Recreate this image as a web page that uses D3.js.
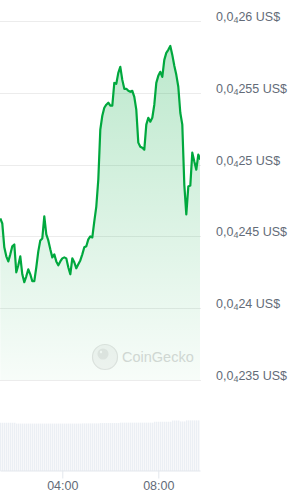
<!DOCTYPE html>
<html>
<head>
<meta charset="utf-8">
<script src="https://cdn.jsdelivr.net/npm/d3@7"></script>
<style>
  body { margin: 0; background: #fff; }
  svg { display: block; font-family: "Liberation Sans", Arial, sans-serif; }
</style>
</head>
<body>
<div id="chart"></div>
<script>
// price in US$, one point every 5 minutes starting 01:25
var startTime = "01:25";
var prices = [
  0.000024625, 0.00002459, 0.000024424, 0.000024361, 0.000024326, 0.000024375, 0.000024431, 0.000024444,
  0.00002425, 0.000024299, 0.000024361, 0.000024236, 0.000024181, 0.000024222, 0.000024271, 0.000024236,
  0.000024188, 0.000024188, 0.000024285, 0.000024396, 0.000024472, 0.000024486, 0.000024639, 0.000024514,
  0.000024472, 0.00002441, 0.000024354, 0.000024375, 0.000024326, 0.000024299, 0.000024326, 0.000024347,
  0.000024354, 0.000024347, 0.000024285, 0.000024236, 0.000024347, 0.00002432, 0.000024278, 0.000024306,
  0.000024333, 0.000024375, 0.000024424, 0.000024431, 0.000024479, 0.0000245, 0.000024493, 0.000024604,
  0.000024708, 0.000024896, 0.000025243, 0.00002534, 0.000025396, 0.000025417, 0.000025431, 0.00002541,
  0.00002541, 0.000025569, 0.000025563, 0.000025639, 0.000025681, 0.00002559, 0.000025528, 0.000025528,
  0.000025514, 0.000025507, 0.000025514, 0.000025472, 0.000025382, 0.000025153, 0.000025125, 0.000025118,
  0.000025104, 0.000025278, 0.000025326, 0.000025299, 0.000025326, 0.000025417, 0.000025569, 0.000025618,
  0.000025646, 0.000025611, 0.000025729, 0.000025778, 0.000025799, 0.000025826, 0.000025764, 0.000025688,
  0.000025625, 0.000025542, 0.000025361, 0.000025278, 0.000024861, 0.000024653, 0.000024847, 0.000024854,
  0.000025083, 0.000025021, 0.000024965, 0.00002507, 0.000025035
];

// volume bars (thousand US$), same 5 minute steps
var volumes = [
  946, 946, 946, 946, 946, 946, 946, 946, 930, 930,
  930, 930, 930, 930, 930, 930, 930, 930, 930, 930,
  930, 930, 930, 930, 930, 930, 930, 930, 930, 930,
  930, 930, 930, 930, 930, 930, 930, 930, 930, 930,
  930, 934, 934, 934, 934, 934, 934, 934, 934, 934,
  940, 940, 940, 940, 940, 940, 940, 940, 940, 940,
  948, 948, 948, 948, 948, 948, 948, 948, 948, 948,
  948, 948, 948, 948, 948, 948, 948, 966, 966, 966,
  966, 966, 966, 966, 966, 966, 990, 990, 990, 990,
  972, 972, 972, 992, 992, 992, 992, 992, 992, 992
];

var yTicks = [0.0000235, 0.000024, 0.0000245, 0.000025, 0.0000255, 0.000026];
var xTicks = ["04:00", "08:00"];
var xDomain = ["01:24:15", "09:44:15"];

var width = 299, height = 496;
var plotRight = 200;
var priceTop = 21, priceBottom = 380;
var volTop = 420, volBottom = 471;

var parseHM = d3.timeParse("%H:%M");
var parseHMS = d3.timeParse("%H:%M:%S");
var t0 = parseHM(startTime);

var priceData = prices.map(function (p, i) {
  return { t: d3.timeMinute.offset(t0, 5 * i), v: p };
});
var volData = volumes.map(function (v, i) {
  return { t: d3.timeMinute.offset(t0, 5 * i), v: v };
});

var x = d3.scaleTime()
  .domain(xDomain.map(parseHMS))
  .range([0, plotRight]);

var y = d3.scaleLinear()
  .domain([0.0000235, 0.000026])
  .range([priceBottom, priceTop]);

var yVol = d3.scaleLinear()
  .domain([0, 1000])
  .range([volBottom, volTop]);

// "0,0₄255 US$" style label pieces
function priceParts(v) {
  var s = v.toFixed(10).replace(/0+$/, "");
  var dec = s.split(".")[1];
  var zeros = dec.match(/^0*/)[0].length;
  return { zeros: zeros, digits: dec.slice(zeros) };
}

var svg = d3.select("#chart")
  .append("svg")
  .attr("width", width)
  .attr("height", height);

var defs = svg.append("defs");
defs.append("clipPath").attr("id", "clip")
  .append("rect")
  .attr("x", 0).attr("y", 0)
  .attr("width", plotRight).attr("height", height);

var grad = defs.append("linearGradient")
  .attr("id", "fillGrad")
  .attr("gradientUnits", "userSpaceOnUse")
  .attr("x1", 0).attr("y1", priceTop)
  .attr("x2", 0).attr("y2", priceBottom);
grad.append("stop").attr("offset", "0%").attr("stop-color", "#00a83e").attr("stop-opacity", 0.28);
grad.append("stop").attr("offset", "100%").attr("stop-color", "#00a83e").attr("stop-opacity", 0.03);

// grid
svg.append("g")
  .selectAll("line")
  .data(yTicks)
  .enter()
  .append("line")
  .attr("x1", 0)
  .attr("x2", plotRight + 1)
  .attr("y1", function (d) { return Math.round(y(d)) + 0.5; })
  .attr("y2", function (d) { return Math.round(y(d)) + 0.5; })
  .attr("stroke", "#ececec")
  .attr("stroke-width", 1);

// y labels
var labels = svg.append("g")
  .selectAll("text")
  .data(yTicks)
  .enter()
  .append("text")
  .attr("x", 216)
  .attr("y", function (d) { return Math.round(y(d)); })
  .attr("font-size", 12.5)
  .attr("fill", "#636b78");

labels.each(function (d) {
  var p = priceParts(d);
  var t = d3.select(this);
  t.append("tspan").text("0,0");
  t.append("tspan").attr("font-size", 9).attr("dy", 2).text(p.zeros);
  t.append("tspan").attr("dy", -2).text(p.digits + " US$");
});

// watermark
var wm = svg.append("g").attr("opacity", 0.9);
wm.append("circle")
  .attr("cx", 105).attr("cy", 357).attr("r", 12.5)
  .attr("fill", "#f4f4f4").attr("stroke", "#e2e2e2").attr("stroke-width", 1.2);
wm.append("circle")
  .attr("cx", 103).attr("cy", 354).attr("r", 5.5)
  .attr("fill", "#e4e4e4");
wm.append("circle")
  .attr("cx", 101).attr("cy", 352).attr("r", 1.2)
  .attr("fill", "#fafafa");
wm.append("text")
  .attr("x", 122).attr("y", 362)
  .attr("font-size", 14.5)
  .attr("fill", "#d6d6d6")
  .text("CoinGecko");

var plot = svg.append("g").attr("clip-path", "url(#clip)");

var area = d3.area()
  .x(function (d) { return x(d.t); })
  .y0(priceBottom)
  .y1(function (d) { return y(d.v); });

var line = d3.line()
  .x(function (d) { return x(d.t); })
  .y(function (d) { return y(d.v); });

plot.append("path")
  .datum(priceData)
  .attr("d", area)
  .attr("fill", "url(#fillGrad)");

plot.append("path")
  .datum(priceData)
  .attr("d", line)
  .attr("fill", "none")
  .attr("stroke", "#00a83e")
  .attr("stroke-width", 2.2)
  .attr("stroke-linejoin", "round");

// volume
plot.append("g")
  .selectAll("rect")
  .data(volData)
  .enter()
  .append("rect")
  .attr("x", function (d) { return x(d.t); })
  .attr("width", 1)
  .attr("y", function (d) { return yVol(d.v); })
  .attr("height", function (d) { return volBottom - yVol(d.v); })
  .attr("fill", "#e3e8ef");

// x axis
var xAxis = d3.axisBottom(x)
  .tickValues(xTicks.map(parseHM))
  .tickFormat(d3.timeFormat("%H:%M"))
  .tickSize(8)
  .tickSizeOuter(0)
  .tickPadding(3);

var gx = svg.append("g")
  .attr("transform", "translate(0," + (volBottom - 0.5) + ")")
  .call(xAxis);

gx.select(".domain").attr("stroke", "#e3e7ed");
gx.selectAll(".tick line").attr("stroke", "#e3e7ed");
gx.selectAll(".tick text")
  .attr("fill", "#636b78")
  .attr("font-size", 12.5)
  .attr("font-family", "Liberation Sans, Arial, sans-serif");
</script>
</body>
</html>
